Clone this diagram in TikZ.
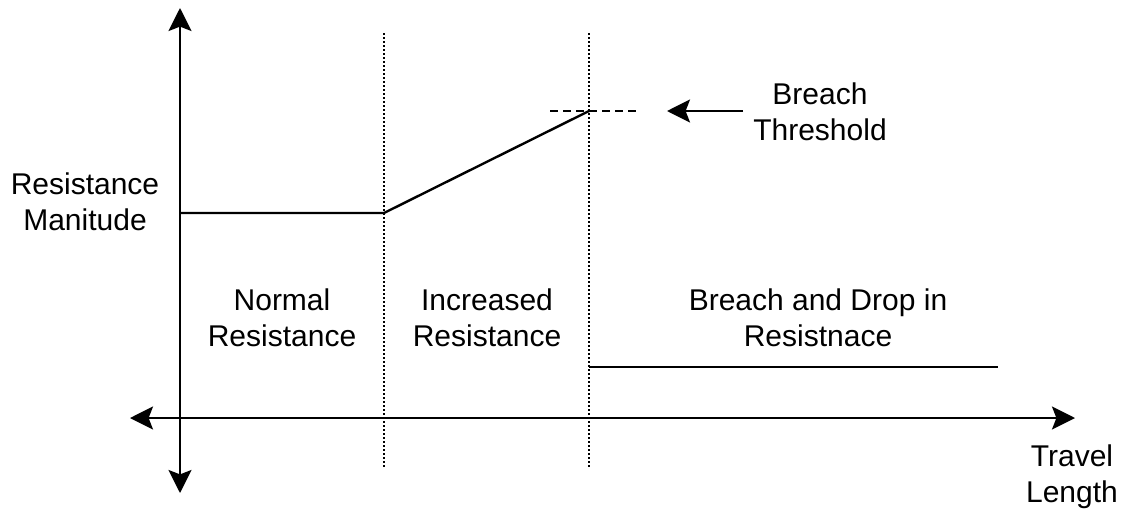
\documentclass[tikz,border=0pt]{standalone}
\usepackage{fontspec}
\setmainfont{Liberation Sans}
\usetikzlibrary{arrows.meta}
\begin{document}
\begin{tikzpicture}[x=0.5pt,y=-0.5pt,
  axis/.style={line width=1.2pt,{Stealth[length=11.5pt,width=11.5pt,inset=2.2pt]}-{Stealth[length=11.5pt,width=11.5pt,inset=2.2pt]}},
  pointer/.style={line width=1.2pt,-{Stealth[length=11.5pt,width=11.5pt,inset=2.2pt]}},
  curve/.style={line width=1.2pt},
  divider/.style={line width=1.1pt,dash pattern=on 1pt off 1pt},
  level/.style={line width=1.2pt,dash pattern=on 4pt off 2.5pt},
  lbl/.style={font=\fontsize{15pt}{18pt}\selectfont,align=center,anchor=base,inner sep=0pt}]
\useasboundingbox (0,0) rectangle (1130,509);

% axes
\coordinate (ytop) at (180,8);
\coordinate (ybot) at (180,493);
\coordinate (xleft) at (130,418);
\coordinate (xright) at (1075,418);
\draw[axis] (ybot) -- (ytop);
\draw[axis] (xleft) -- (xright);

% region dividers
\coordinate (d1top) at (384,33);
\coordinate (d1bot) at (384,468);
\coordinate (d2top) at (589,33);
\coordinate (d2bot) at (589,468);
\draw[divider] (d1top) -- (d1bot);
\draw[divider] (d2top) -- (d2bot);

% resistance profile
\coordinate (r0) at (180,213);
\coordinate (r1) at (384,213);
\coordinate (r2) at (589,111);
\coordinate (r3) at (589,367);
\coordinate (r4) at (998,367);
\draw[curve] (r0) -- (r1) -- (r2);
\draw[curve] (r3) -- (r4);

% breach threshold level
\coordinate (t0) at (550,111);
\coordinate (t1) at (636,111);
\draw[level] (t0) -- (t1);
\coordinate (ptail) at (743,111);
\coordinate (ptip) at (667,111);
\draw[pointer] (ptail) -- (ptip);

% labels (anchored at the baseline of their last line)
\node[lbl] (ylab) at (85,230) {Resistance\\Manitude};
\node[lbl] (xlab) at (1072,502) {Travel\\Length};
\node[lbl] (thr) at (820,140) {Breach\\Threshold};
\node[lbl] (z1) at (282,346) {Normal\\Resistance};
\node[lbl] (z2) at (487,346) {Increased\\Resistance};
\node[lbl] (z3) at (818,346) {Breach and Drop in\\Resistnace};
\end{tikzpicture}
\end{document}
